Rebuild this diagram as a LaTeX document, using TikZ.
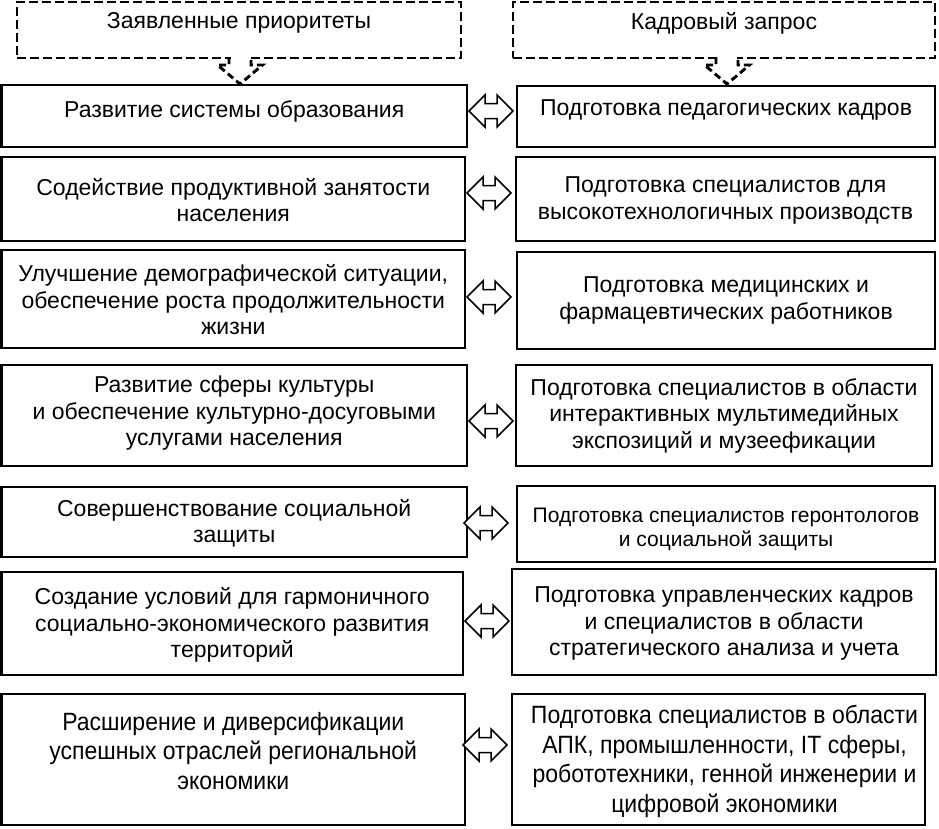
\documentclass[tikz,border=0pt]{standalone}
\usepackage{fontspec}
\setmainfont{Liberation Sans}
\newfontfamily\tallfont[FakeStretch=0.92]{Liberation Sans}
\usetikzlibrary{calc}
\begin{document}
\begin{tikzpicture}[x=1pt,y=-1pt,
  box/.style={draw, line width=2.6pt, inner sep=0pt},
  hbox/.style={draw, line width=2.9pt, dash pattern=on 9pt off 4pt, inner sep=0pt},
  txt/.style={inner sep=0pt, align=center, font=\fontsize{23}{26.5}\selectfont},
  dblarr/.pic={
    \draw[line width=1.5pt, line join=miter, fill=white]
      (-22,0) -- (-6,-16) -- (-6,-7.5) -- (6,-7.5) -- (6,-16) -- (22,0)
      -- (6,16) -- (6,7.5) -- (-6,7.5) -- (-6,16) -- cycle;
  },
  darr/.pic={
    \fill[white] (-9.5,-28.5) rectangle (9.5,-24);
    \draw[line width=2.9pt, dash pattern=on 7pt off 4pt]
      (-11,-27) -- (-11,-19) -- (-22.5,-19) -- (0,0) -- (22.5,-19) -- (11,-19) -- (11,-27);
  }]
\useasboundingbox (0,0) rectangle (939,828);

% header boxes
\node[hbox, minimum width=444pt, minimum height=56pt] (LH) at (239,30) {};
\node[hbox, minimum width=422pt, minimum height=56pt] (RH) at (724,30) {};
\node[txt] (LHt) at ($(LH.center)+(0,-7)$) {Заявленные приоритеты};
\node[txt] (RHt) at ($(RH.center)+(0,-7)$) {Кадровый запрос};

% left column boxes
\node[box, minimum width=465.5pt, minimum height=62pt] (L1) at (234.25,116) {};
\node[box, minimum width=463.5pt, minimum height=84pt] (L2) at (233.25,199) {};
\node[box, minimum width=463.5pt, minimum height=98pt] (L3) at (233.25,299) {};
\node[box, minimum width=465.5pt, minimum height=101pt] (L4) at (234.25,415.5) {};
\node[box, minimum width=465.5pt, minimum height=70pt] (L5) at (234.25,522) {};
\node[box, minimum width=461.5pt, minimum height=103pt] (L6) at (232.25,623.5) {};
\node[box, minimum width=463.5pt, minimum height=131pt] (L7) at (233.25,759.5) {};

% right column boxes
\node[box, minimum width=418pt, minimum height=61pt] (R1) at (726,116.5) {};
\node[box, minimum width=419pt, minimum height=84pt] (R2) at (725.5,199) {};
\node[box, minimum width=418pt, minimum height=97pt] (R3) at (726,300.5) {};
\node[box, minimum width=416pt, minimum height=101pt] (R4) at (724,415.5) {};
\node[box, minimum width=418pt, minimum height=76pt] (R5) at (726,524) {};
\node[box, minimum width=424pt, minimum height=106pt] (R6) at (724,622) {};
\node[box, minimum width=413pt, minimum height=131pt] (R7) at (718.5,759.5) {};

% left texts
\node[txt] (L1t) at ($(L1.center)+(0,-5)$) {Развитие системы образования};
\node[txt] (L2t) at ($(L2.center)+(0,1)$) {Содействие продуктивной занятости\\населения};
\node[txt] (L3t) at ($(L3.center)+(0,1)$) {Улучшение демографической ситуации,\\обеспечение роста продолжительности\\жизни};
\node[txt] (L4t) at ($(L4.center)+(0,-2)$) {Развитие сферы культуры\\и обеспечение культурно-досуговыми\\услугами населения};
\node[txt] (L5t) at ($(L5.center)+(0,1)$) {Совершенствование социальной\\защиты};
\node[txt] (L6t) at ($(L6.center)+(0,1.5)$) {Создание условий для гармоничного\\социально-экономического развития\\территорий};
\node[txt, font=\tallfont\fontsize{25}{29.5}\selectfont] (L7t) at ($(L7.center)+(0,-8.5)$) {Расширение и диверсификации\\успешных отраслей региональной\\экономики};

% right texts
\node[txt] (R1t) at ($(R1.center)+(0,-6.5)$) {Подготовка педагогических кадров};
\node[txt] (R2t) at ($(R2.center)+(0,1.5)$) {Подготовка специалистов для\\высокотехнологичных производств};
\node[txt] (R3t) at (R3.center) {Подготовка медицинских и\\фармацевтических работников};
\node[txt] (R4t) at (R4.center) {Подготовка специалистов в области\\интерактивных мультимедийных\\экспозиций и музеефикации};
\node[txt, font=\fontsize{21}{24.5}\selectfont] (R5t) at ($(R5.center)+(0,5.5)$) {Подготовка специалистов геронтологов\\и социальной защиты};
\node[txt] (R6t) at ($(R6.center)+(0,1.5)$) {Подготовка управленческих кадров\\и специалистов в области\\стратегического анализа и учета};
\node[txt, font=\tallfont\fontsize{25}{29.5}\selectfont] (R7t) at ($(R7.center)+(6,2)$) {Подготовка специалистов в области\\АПК, промышленности, IT сферы,\\робототехники, генной инженерии и\\цифровой экономики};

% dashed arrows
\coordinate (TL) at (240,84);
\coordinate (TR) at (727,84);
\pic at (TL) {darr};
\pic at (TR) {darr};

% double arrows
\coordinate (A1) at (491,111);
\coordinate (A2) at (489,193);
\coordinate (A3) at (489,297);
\coordinate (A4) at (491,421);
\coordinate (A5) at (486,523);
\coordinate (A6) at (487,621);
\coordinate (A7) at (485,745);
\foreach \a in {A1,A2,A3,A4,A5,A6,A7} \pic at (\a) {dblarr};
\end{tikzpicture}
\end{document}
